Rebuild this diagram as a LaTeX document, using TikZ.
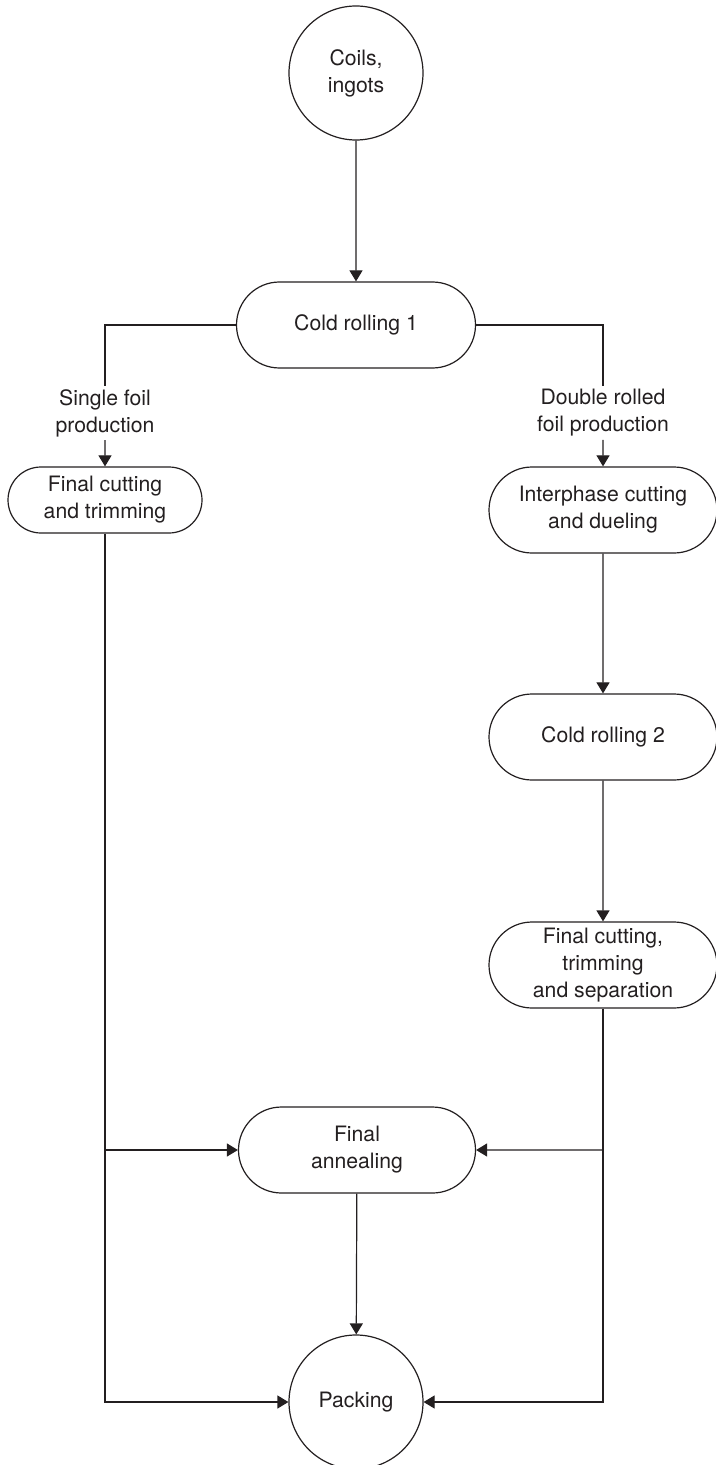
\documentclass[tikz,border=0pt]{standalone}
\usepackage{fontspec}
\setmainfont{TeX Gyre Heros}
\usetikzlibrary{arrows.meta,shapes.misc}
\definecolor{ink}{HTML}{231F20}
\tikzset{
  >={Triangle[length=5.5pt,width=6.5pt]},
  % knoten
  term/.style={circle,draw=ink,line width=0.6pt,inner sep=0pt,
               minimum size=67pt,align=center,text=ink},
  stadium/.style={rounded rectangle,draw=ink,line width=0.6pt,inner sep=0pt,
                  align=center,minimum height=43pt,text=ink},
  lbl/.style={inner sep=1.5pt,align=center,text=ink},
  % linien
  flow/.style={->,draw=ink,line width=0.6pt},
  wire/.style={draw=ink,line width=0.6pt},
}
\begin{document}
\begin{tikzpicture}[x=0.5pt,y=-0.5pt,font=\fontsize{10.6}{13.5}\selectfont]
  \useasboundingbox (0,0) rectangle (716,1465);
  \node[term] (coils) at (356,73) {Coils,\\ingots};
  \node[stadium,minimum width=119.5pt] (cr1) at (356,325) {Cold rolling 1};
  \node[lbl] (single) at (105,413) {Single foil\\production};
  \node[lbl] (double) at (603,413) {Double rolled\\foil production};
  \node[stadium,minimum width=97pt,minimum height=33pt] (fct) at (105,500)
    {Final cutting\\and trimming};
  \node[stadium,minimum width=114pt] (ict) at (603,510) {Interphase cutting\\and dueling};
  \node[stadium,minimum width=114pt] (cr2) at (603,737) {Cold rolling 2};
  \node[stadium,minimum width=114pt] (fcts) at (603,965)
    {Final cutting,\\trimming\\and separation};
  \node[stadium,minimum width=118.5pt] (fa) at (357,1150) {Final\\annealing};
  \node[term] (pack) at (356,1402) {Packing};
  \coordinate (jl) at (fct.south |- fa.west);
  \coordinate (jr) at (fcts.south |- fa.east);
  \draw[flow] (coils) -- (cr1);
  \draw[wire] (cr1) -| (single); \draw[flow] (single) -- (fct);
  \draw[wire] (cr1) -| (double); \draw[flow] (double) -- (ict);
  \draw[flow] (ict) -- (cr2); \draw[flow] (cr2) -- (fcts);
  \draw[flow] (fct) |- (pack); \draw[flow] (jl) -- (fa);
  \draw[flow] (fcts) |- (pack); \draw[flow] (jr) -- (fa);
  \draw[flow] (fa) -- (pack);
\end{tikzpicture}
\end{document}
